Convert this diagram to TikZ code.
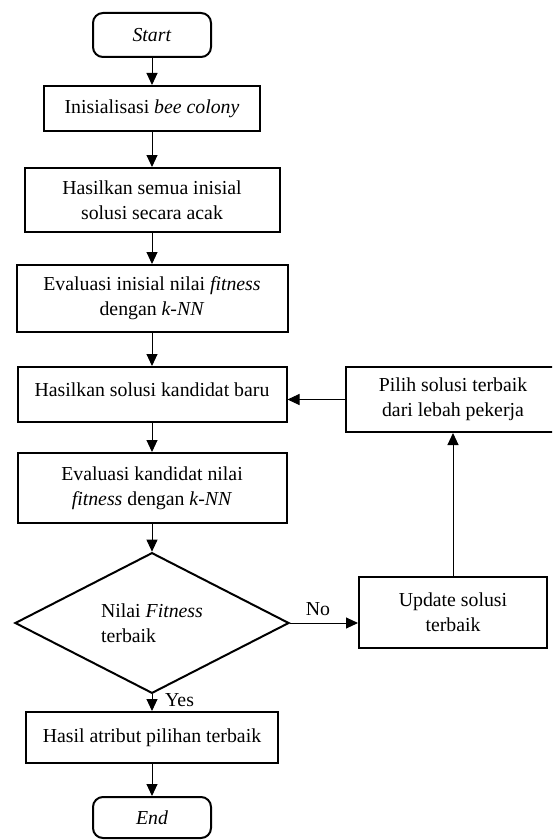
\documentclass[tikz,border=0pt]{standalone}
\usepackage{fontspec}
\setmainfont{Liberation Serif}
\usetikzlibrary{arrows.meta, positioning, shapes.geometric}

\tikzset{
  procbox/.style={draw, line width=1pt, rectangle, align=center, inner sep=2pt},
  termbox/.style={draw, line width=1pt, rectangle, rounded corners=5pt, align=center},
  decbox/.style={draw, line width=1pt, diamond, align=left, inner sep=0pt},
  flowarrow/.style={-{Triangle[length=6pt,width=5.5pt]}, line width=0.5pt},
}

\begin{document}
\begin{tikzpicture}[x=0.5pt, y=-0.5pt, font=\fontsize{9.9}{12.5}\selectfont]

% Frame
\clip (0,0) rectangle (552,840);

% Main column
\node[termbox, minimum width=59pt, minimum height=22pt] (start) at (152,35) {\textit{Start}};
\node[procbox, minimum width=108pt, minimum height=22.5pt] (init) at (152,108.5) {Inisialisasi \textit{bee colony}};
\node[procbox, minimum width=127.5pt, minimum height=32pt] (gen) at (152,200) {Hasilkan semua inisial\\solusi secara acak};
\node[procbox, minimum width=135.5pt, minimum height=33.5pt] (evalinit) at (152,298.5) {Evaluasi inisial nilai \textit{fitness}\\dengan \textit{k-NN}};
\node[procbox, minimum width=134.5pt, minimum height=27.5pt, text depth=5pt] (cand) at (152,394.5) {Hasilkan solusi kandidat baru};
\node[procbox, minimum width=134.5pt, minimum height=35pt] (evalcand) at (152,488) {Evaluasi kandidat nilai\\\textit{fitness} dengan \textit{k-NN}};
\node[decbox, minimum width=137pt, minimum height=61pt] (check) at (152,623) {Nilai \textit{Fitness}\\terbaik};
\node[procbox, minimum width=126pt, minimum height=25.5pt] (result) at (152,737.5) {Hasil atribut pilihan terbaik};
\node[termbox, minimum width=59pt, minimum height=20.5pt] (finish) at (152,817.5) {\textit{End}};

% Right column
\node[procbox, minimum width=107pt, minimum height=32.5pt] (pick) at (453,399.5) {Pilih solusi terbaik\\dari lebah pekerja};
\node[procbox, minimum width=94pt, minimum height=35.5pt] (update) at (453,612.5) {Update solusi\\terbaik};

% Arrows down the main column
\draw[flowarrow] (start) -- (init);
\draw[flowarrow] (init) -- (gen);
\draw[flowarrow] (gen) -- (evalinit);
\draw[flowarrow] (evalinit) -- (cand);
\draw[flowarrow] (cand.south) -- (cand.south |- evalcand.north);
\draw[flowarrow] (evalcand.south) -- (check.north);
\draw[flowarrow] (check.south) -- node[right, pos=0.35, xshift=3pt] {Yes} (check.south |- result.north);
\draw[flowarrow] (result) -- (finish);

% Loop back
\draw[flowarrow] (check.east) -- node[above, xshift=-3pt] {No} (check.east -| update.west);
\draw[flowarrow] (update.north) -- (update.north |- pick.south);
\draw[flowarrow] (pick.west) -- (pick.west -| cand.east);

\end{tikzpicture}
\end{document}
